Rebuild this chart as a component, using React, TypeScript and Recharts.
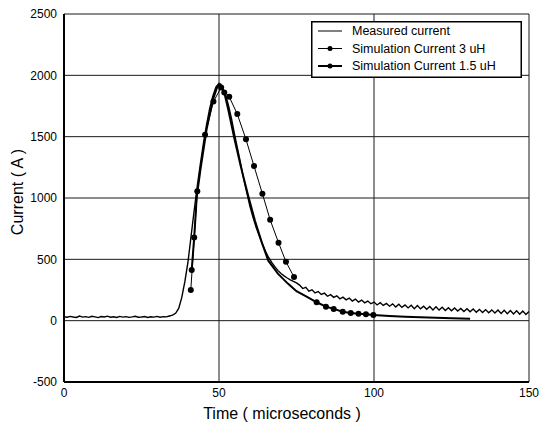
import { LineChart, Line, XAxis, YAxis, CartesianGrid } from "recharts";

// tick labels
const xTicks = [0, 50, 100, 150];
const yTicks = [-500, 0, 500, 1000, 1500, 2000, 2500];

// measured current, one sample per microsecond (0..150)
const measuredTime = Array.from({ length: 151 }, (_, i) => i);
const measuredAmps = [
  32, 28, 35, 30, 26, 38, 29, 33, 27, 36, 31, 25, 34, 30, 37, 28, 32, 26, 35, 29,
  33, 27, 31, 36, 28, 30, 34, 26, 32, 29, 35, 28, 33, 31, 38,
  45, 60, 100, 190, 320, 480, 690, 900, 1100, 1280, 1450, 1600, 1730, 1830, 1905,
  1935, 1900, 1850, 1760, 1650, 1520, 1400, 1280, 1150, 1040, 930, 840, 760, 690, 625,
  565, 515, 475, 440, 410, 385, 365, 348, 333, 320, 308,
  290, 262, 272, 241, 252, 226, 238, 214, 224, 199, 212, 190, 203, 178, 192, 170, 184,
  160, 176, 152, 168, 145, 160, 138, 152, 128, 146, 124, 140, 118, 137, 112, 134, 108,
  128, 104, 126, 98, 124, 96, 118, 93, 116, 88, 114, 86, 110, 83, 106, 80, 104, 78,
  100, 74, 98, 72, 95, 68, 92, 66, 90, 64, 88, 62, 86, 58, 84, 57, 82, 55, 80, 52, 78,
  50, 75,
];

// simulation 3 uH
const sim3Time = [40.9, 43, 45.5, 48.2, 50.7, 53.3, 55.9, 58.7, 61.3, 64, 66.5, 69.2, 71.6, 74.2];
const sim3Amps = [250, 1055, 1515, 1786, 1900, 1825, 1684, 1478, 1260, 1035, 822, 636, 480, 356];

// simulation 1.5 uH
const sim15Time = [
  41.2, 42, 42.8, 44, 46, 48, 49.5, 50.5, 51.7, 53, 55, 57, 59.5, 61.6, 63.8, 65.9, 69,
  72.3, 75, 78.7, 81.5, 84.5, 87, 89.9, 92.5, 95, 97.4, 99.8, 105, 110, 115, 120, 125, 131,
];
const sim15Amps = [
  413, 679, 1005, 1230, 1560, 1800, 1910, 1925, 1860, 1720, 1480, 1260, 1010, 815, 638, 489, 383,
  300, 240, 190, 150, 114, 96, 73, 63, 57, 52, 46, 38, 32, 27, 23, 19, 16,
];
// times where the 1.5 uH curve shows a marker
const sim15Marks = [41.2, 42, 51.7, 81.5, 84.5, 87, 89.9, 92.5, 95, 97.4, 99.8];

const measured = measuredTime.map((t, i) => ({ t, a: measuredAmps[i] }));
const sim3 = sim3Time.map((t, i) => ({ t, a: sim3Amps[i] }));
const sim15 = sim15Time.map((t, i) => ({ t, a: sim15Amps[i] }));

const font = "'Liberation Sans', Arial, sans-serif";

const legendRows = [
  { name: "Measured current", width: 1, dot: false },
  { name: "Simulation Current 3 uH", width: 1, dot: true },
  { name: "Simulation Current 1.5 uH", width: 2, dot: true },
];

const LegendBox = () => (
  <g transform="translate(311,21)">
    <rect x={0.75} y={0.75} width={209.5} height={55.5} fill="#fff" stroke="#000" strokeWidth={1.5} />
    {legendRows.map((r, i) => {
      const cy = 10 + i * 17.5;
      return (
        <g key={r.name}>
          <line x1={7} x2={31} y1={cy} y2={cy} stroke="#000" strokeWidth={r.width} />
          {r.dot && <circle cx={19} cy={cy} r={2.5} fill="#000" />}
          <text x={41} y={cy} dominantBaseline="central" fontSize={12.5} fontFamily={font} fill="#000">
            {r.name}
          </text>
        </g>
      );
    })}
  </g>
);

const sim15Dot = (props: any) => {
  const { cx, cy, payload, index } = props;
  if (!sim15Marks.includes(payload.t)) return <g key={"d" + index} />;
  return <circle key={"d" + index} cx={cx} cy={cy} r={3} fill="#000" />;
};

export default function App() {
  return (
    <div style={{ position: "absolute", left: 0, top: 0, background: "#fff" }}>
      <LineChart width={539} height={425} margin={{ top: 14, right: 10, bottom: 0, left: 0 }}>
        <CartesianGrid stroke="#1a1a1a" strokeWidth={1} />
        <XAxis
          type="number"
          dataKey="t"
          domain={[0, 150]}
          ticks={xTicks}
          allowDataOverflow
          height={43}
          tickSize={0}
          tickLine={false}
          tickMargin={6}
          axisLine={{ stroke: "#000", strokeWidth: 2 }}
          tick={{ fill: "#000", fontSize: 12, fontFamily: font }}
        />
        <YAxis
          type="number"
          dataKey="a"
          domain={[-500, 2500]}
          ticks={yTicks}
          allowDataOverflow
          width={64}
          tickSize={0}
          tickLine={false}
          tickMargin={7}
          axisLine={{ stroke: "#000", strokeWidth: 2 }}
          tick={{ fill: "#000", fontSize: 12, fontFamily: font }}
        />
        <Line
          data={measured}
          dataKey="a"
          name="Measured current"
          stroke="#000"
          strokeWidth={1.4}
          dot={false}
          type="linear"
          isAnimationActive={false}
        />
        <Line
          data={sim15}
          dataKey="a"
          name="Simulation Current 1.5 uH"
          stroke="#000"
          strokeWidth={2}
          dot={sim15Dot}
          type="linear"
          isAnimationActive={false}
        />
        <Line
          data={sim3}
          dataKey="a"
          name="Simulation Current 3 uH"
          stroke="#000"
          strokeWidth={1}
          dot={{ r: 3, fill: "#000", stroke: "#000", strokeWidth: 0 }}
          type="linear"
          isAnimationActive={false}
        />
        <LegendBox />
        <text x={17} y={192} transform="rotate(-90 17 192)" textAnchor="middle" dominantBaseline="central"
          fontSize={16} fontFamily={font} fill="#000">
          Current ( A )
        </text>
        <text x={282} y={419} textAnchor="middle" fontSize={16} fontFamily={font} fill="#000">
          Time ( microseconds )
        </text>
      </LineChart>
    </div>
  );
}
